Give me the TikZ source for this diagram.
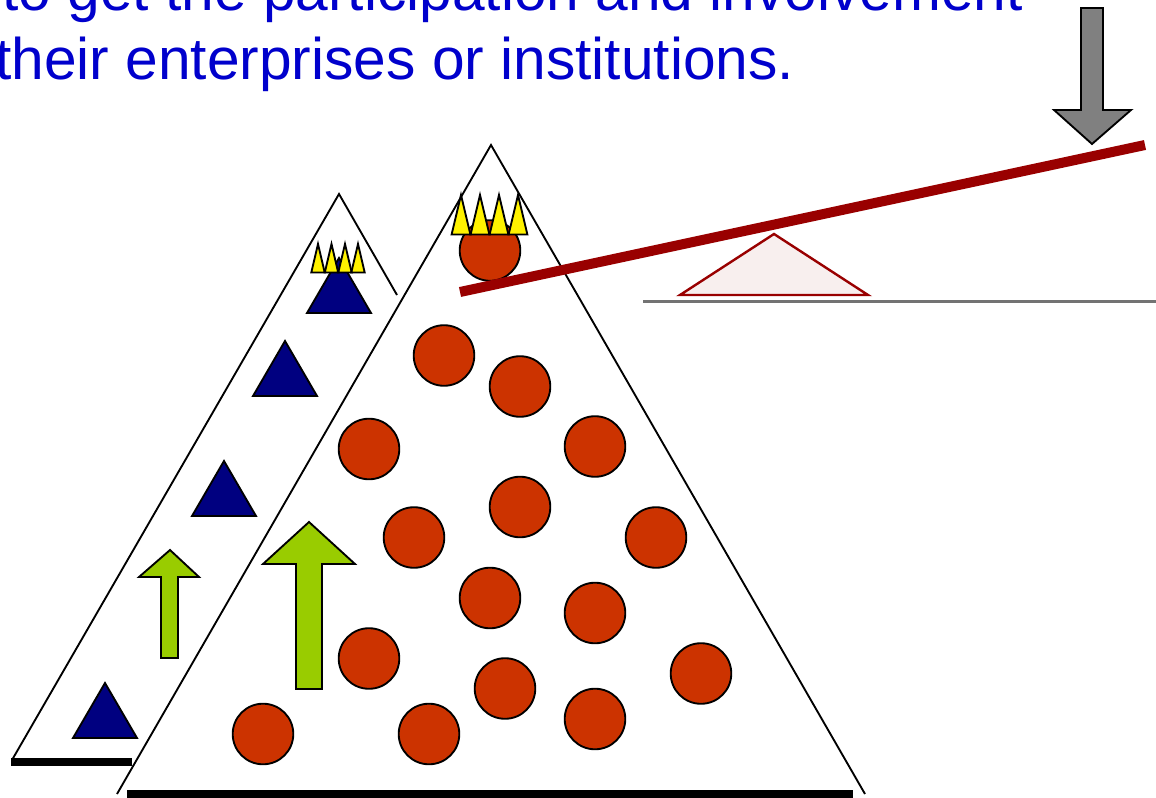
\documentclass[tikz,border=0pt]{standalone}
\usepackage{fontspec}
\setmainfont{Liberation Sans}
\definecolor{slideblue}{HTML}{0000CC}
\definecolor{ballred}{HTML}{CC3300}
\definecolor{leverred}{HTML}{990000}
\definecolor{arrowgreen}{HTML}{99CC00}
\definecolor{paleface}{HTML}{F8EFEE}
\begin{document}
\begin{tikzpicture}[x=0.75pt,y=-0.75pt,
    headline/.style={anchor=base west,inner sep=0pt,text=slideblue,font=\fontsize{44}{54}\selectfont},
    outline/.style={draw=black,line width=1.4pt},
    ball/.style={outline,fill=ballred},
    peak/.style={outline,fill=blue!50!black,line join=miter},
    spike/.style={outline,fill=yellow},
    uparrow/.style={outline,fill=arrowgreen}]
  \useasboundingbox (0,0) rectangle (1156,798);
  \node[headline] (lineone) at (2,11) {to get the participation and involvement};
  \node[headline] (linetwo) at (-5,80) {their enterprises or institutions.};
  % small pyramid
  \draw[outline] (12,760) -- (339,194) -- (397,295);
  \fill (11,758) rectangle (132,766);
  \foreach \x/\y in {339/258, 285/341, 224/461, 105/683}
    \draw[peak] (\x,\y) -- (\x+32,\y+55) -- (\x-32,\y+55) -- cycle;
  \foreach \x in {318,331.5,345,358}
    \draw[spike] (\x-6.7,272.5) -- (\x,244) -- (\x+6.7,272.5) -- cycle;
  \draw[uparrow] (161,658) -- (161,577) -- (139,577) -- (170,550) -- (199,577)
    -- (178,577) -- (178,658) -- cycle;
  % large pyramid
  \draw[outline] (117,794) -- (491,145) -- (865,794);
  \fill (127,790) rectangle (853,798);
  \foreach \x/\y in
    {490/250.5, 444/355.5, 520/386.5, 369/449, 595/446.5, 520/507, 414/537.5, 656/537.5,
     490/598, 595/613, 369/658.5, 505/688.5, 701/673.5, 263/734, 429/734, 595/719}
    \draw[ball] (\x,\y) circle(30.3);
  \foreach \x in {461,480,499,518}
    \draw[spike] (\x-9.4,234.5) -- (\x,195) -- (\x+9.4,234.5) -- cycle;
  \draw[uparrow] (296,689) -- (296,564) -- (263,564) -- (309,522) -- (355,564)
    -- (322,564) -- (322,689) -- cycle;
  % balance
  \draw[black!55,line width=1.6pt] (643,301.5) -- (1156,301.5);
  \draw[draw=leverred,fill=paleface,line width=1.8pt] (680,295) -- (774,234) -- (868,295) -- cycle;
  \draw[leverred,line width=7.5pt] (460,292) -- (1145,145);
  \draw[outline,fill=gray] (1081,8) -- (1103,8) -- (1103,110) -- (1131,110) -- (1092,144)
    -- (1054,110) -- (1081,110) -- cycle;
\end{tikzpicture}
\end{document}
